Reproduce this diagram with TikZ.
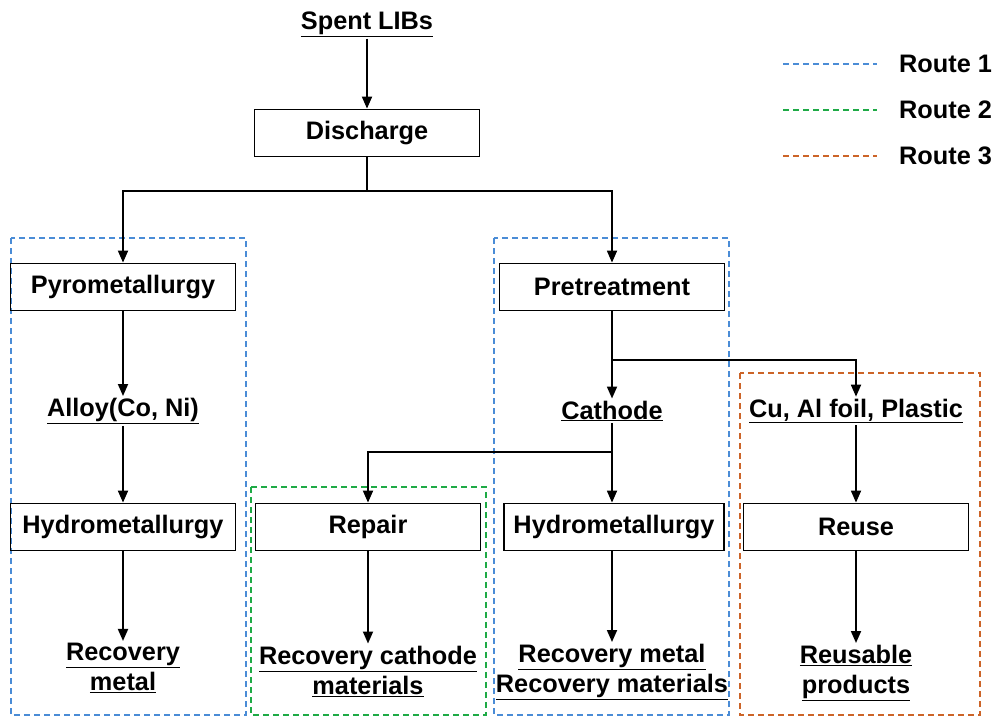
\documentclass[tikz,border=0pt]{standalone}
\usepackage{fontspec}
\setmainfont{Liberation Sans}
\usetikzlibrary{arrows.meta}
\definecolor{rblue}{RGB}{74,140,214}
\definecolor{rgreen}{RGB}{30,170,70}
\definecolor{rorange}{RGB}{204,100,40}
\begin{document}
\begin{tikzpicture}[x=1pt,y=-1pt,
  every node/.style={font=\fontsize{25.3}{30}\selectfont\bfseries},
  box/.style={draw,line width=1.8pt,minimum width=225pt,minimum height=47pt,inner sep=0pt},
  lbl/.style={inner sep=2pt,align=center},
  conn/.style={line width=1.8pt},
  arr/.style={conn,-{Triangle[length=12pt,width=10pt]}},
  routeA/.style={draw=rblue,line width=2.2pt,dash pattern=on 6pt off 4pt},
  routeB/.style={draw=rgreen,line width=2.2pt,dash pattern=on 6pt off 4pt},
  routeC/.style={draw=rorange,line width=2.2pt,dash pattern=on 6pt off 4pt}]
\useasboundingbox (0,0) rectangle (995,717);
% route frames
\draw[routeA] (11,238) rectangle (246,715);
\draw[routeA] (494,238) rectangle (729,715);
\draw[routeB] (251,487) rectangle (486,715);
\draw[routeC] (740,373) rectangle (980,715);
% legend
\draw[routeA] (783,64) coordinate (la1) -- (877,64) coordinate (la2);
\draw[routeB] (783,110) coordinate (lb1) -- (877,110) coordinate (lb2);
\draw[routeC] (783,156) coordinate (lc1) -- (877,156) coordinate (lc2);
\node[anchor=west,inner sep=0pt] (t1) at (899,64) {Route 1};
\node[anchor=west,inner sep=0pt] (t2) at (899,110) {Route 2};
\node[anchor=west,inner sep=0pt] (t3) at (899,156) {Route 3};
% nodes
\node[lbl] (spent) at (367,24) {\underline{Spent LIBs}};
\node[box] (dis) at (367,133) {Discharge};
\node[box] (pyro) at (123,287) {Pyrometallurgy};
\node[box] (pre) at (612,287) {Pretreatment};
\node[lbl] (alloy) at (123,411) {\underline{Alloy(Co, Ni)}};
\node[lbl] (cat) at (612,411) {\underline{Cathode}};
\node[lbl] (cu) at (856,411) {\underline{Cu, Al foil, Plastic}};
\node[box] (hyA) at (123,527) {Hydrometallurgy};
\node[box] (rep) at (368,527) {Repair};
\node[box,minimum width=220pt] (hyB) at (614,527) {Hydrometallurgy};
\node[box] (reu) at (856,527) {Reuse};
\node[lbl] (recA) at (123,668) {\underline{Recovery}\\\underline{metal}};
\node[lbl] (recB) at (368,671) {\underline{Recovery cathode}\\\underline{materials}};
\node[lbl] (recC) at (612,672) {\underline{Recovery metal}\\\underline{Recovery materials}};
\node[lbl] (recD) at (856,673) {\underline{Reusable}\\\underline{products}};
% connectors
\coordinate (b1) at (367,191);
\coordinate (b2) at (612,360);
\coordinate (b3) at (612,452);
\draw[arr] (spent) -- (dis);
\draw[conn] (dis) -- (b1);
\draw[arr] (b1) -| (pyro);
\draw[arr] (b1) -| (pre);
\draw[arr] (pyro) -- (alloy);
\draw[arr] (alloy) -- (hyA);
\draw[arr] (hyA) -- (recA);
\draw[arr] (pre) -- (cat);
\draw[arr] (b2) -| (cu);
\draw[arr] (cat.south) -- (cat.south |- hyB.north);
\draw[arr] (b3) -| (rep);
\draw[arr] (rep) -- (recB);
\draw[arr] (hyB.south -| cat.south) -- (recC.north -| cat.south);
\draw[arr] (cu) -- (reu);
\draw[arr] (reu) -- (recD);
\end{tikzpicture}
\end{document}
